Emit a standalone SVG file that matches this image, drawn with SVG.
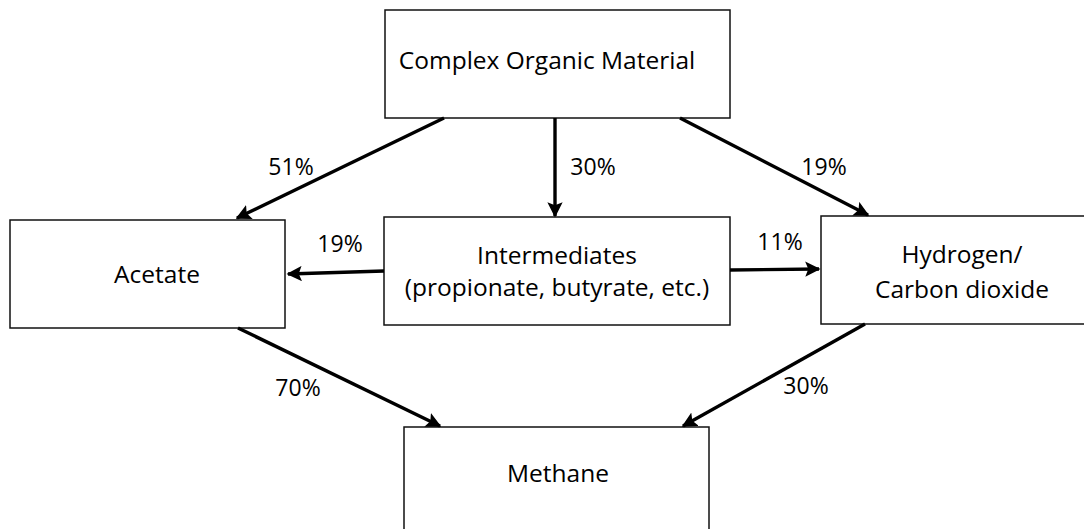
<svg xmlns="http://www.w3.org/2000/svg" width="1084" height="529" viewBox="0 0 1084 529">
<style>
.box{fill:#fff;stroke:#111;stroke-width:1.5}
.t{font-family:"Open Sans","Noto Sans",sans-serif;font-size:24.5px;fill:#000;text-anchor:middle}
.l{font-family:"Open Sans","Noto Sans",sans-serif;font-size:23px;fill:#000;text-anchor:middle}
.c line{stroke:#000;stroke-width:3.4;marker-end:url(#ah)}
</style>
<defs>
<marker id="ah" viewBox="0 0 10 10" refX="9" refY="5" markerWidth="4.5" markerHeight="4.5" orient="auto" markerUnits="strokeWidth">
<path d="M0,0 L10,5 L0,10 L2,5 z" fill="#000"/>
</marker>
</defs>
<rect width="1084" height="529" fill="#fff"/>
<g id="complex"><rect class="box" x="385" y="10" width="345" height="108"/><text class="t" x="547" y="69">Complex Organic Material</text></g>
<g id="acetate"><rect class="box" x="10" y="220" width="275" height="108"/><text class="t" x="157" y="283">Acetate</text></g>
<g id="intermediates"><rect class="box" x="384" y="217" width="346" height="108"/><text class="t" x="557" y="264">Intermediates</text><text class="t" x="557" y="296">(propionate, butyrate, etc.)</text></g>
<g id="hydrogen"><rect class="box" x="821" y="216" width="282" height="108"/><text class="t" x="962" y="263">Hydrogen/</text><text class="t" x="962" y="298">Carbon dioxide</text></g>
<g id="methane"><rect class="box" x="404" y="427" width="305" height="110"/><text class="t" x="558" y="482">Methane</text></g>
<g class="c" id="connectors">
<line x1="444" y1="118" x2="237" y2="218"/>
<line x1="555" y1="118" x2="555" y2="216"/>
<line x1="680" y1="118" x2="868" y2="215"/>
<line x1="384" y1="271" x2="288" y2="274"/>
<line x1="730" y1="270" x2="819" y2="269"/>
<line x1="238" y1="328" x2="440" y2="426"/>
<line x1="865" y1="324" x2="683" y2="426"/>
</g>
<g id="labels">
<text class="l" x="291" y="175">51%</text>
<text class="l" x="593" y="175">30%</text>
<text class="l" x="824" y="175">19%</text>
<text class="l" x="340" y="252">19%</text>
<text class="l" x="780" y="250">11%</text>
<text class="l" x="298" y="396">70%</text>
<text class="l" x="806" y="394">30%</text>
</g>
</svg>
